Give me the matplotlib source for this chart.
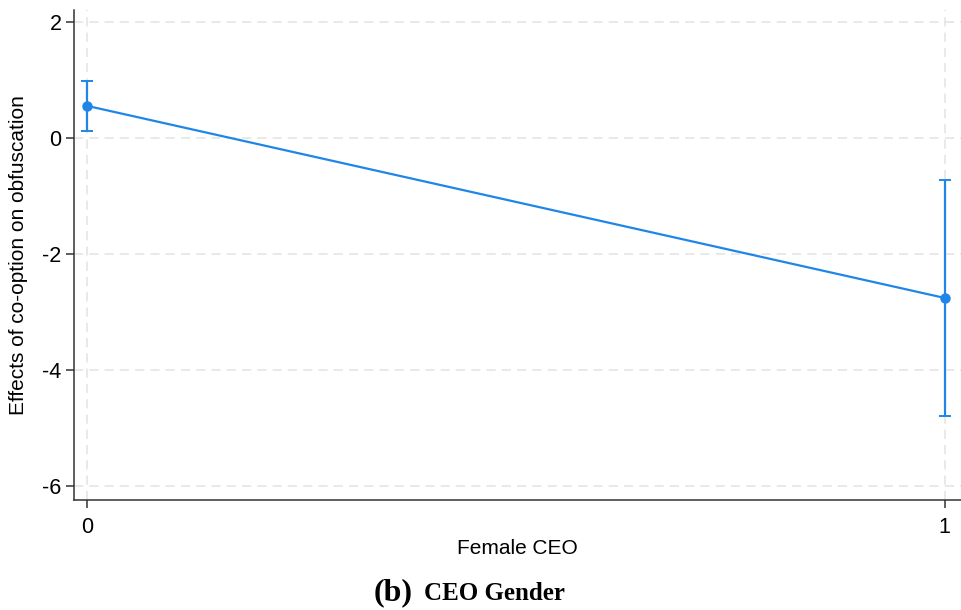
import numpy as np
import matplotlib
matplotlib.use("Agg")
import matplotlib.pyplot as plt

# Margins data
female_ceo = [0, 1]
effect = [0.55, -2.76]
ci_low = [0.12, -4.79]
ci_high = [0.98, -0.72]

yticks = [-6, -4, -2, 0, 2]
xticks = [0, 1]

blue = "#1f86e8"

plt.rcParams["font.family"] = ["Liberation Sans", "DejaVu Sans"]

fig = plt.figure(figsize=(9.62, 6.10), dpi=100)
ax = fig.add_axes([0.0769, 0.1803, 0.9221, 0.8033])

x = np.array(female_ceo)
y = np.array(effect)
yerr = np.vstack([y - np.array(ci_low), np.array(ci_high) - y])

ax.errorbar(x, y, yerr=yerr, color=blue, lw=1.6, marker="o", ms=6.5,
            capsize=4, capthick=1.4, elinewidth=1.6, zorder=3)

ax.set_xlim(-0.015, 1.019)
ax.set_ylim(-6.24, 2.2)
ax.set_xticks(xticks)
ax.set_yticks(yticks)
ax.set_xticklabels([str(t) for t in xticks])
ax.set_yticklabels([str(t) for t in yticks])

ax.grid(True, color="#e3e3e3", ls=(0, (6, 4)), lw=1.1, zorder=0)
for s in ["top", "right"]:
    ax.spines[s].set_visible(False)
for s in ["left", "bottom"]:
    ax.spines[s].set_color("#333333")
    ax.spines[s].set_linewidth(1.1)
ax.tick_params(axis="both", labelsize=15.5, color="#333333", length=6, width=1.1)
ax.tick_params(axis="y", pad=3)
ax.tick_params(axis="x", pad=6)

ax.set_ylabel("Effects of co-option on obfuscation", fontsize=15, labelpad=10)
ax.set_xlabel("Female CEO", fontsize=15, labelpad=1)

fig.text(0.409, 0.016, "(b)", fontsize=23, fontweight="bold",
         family="Liberation Serif", ha="center", va="baseline")
fig.text(0.441, 0.016, "CEO Gender", fontsize=18, fontweight="bold",
         family="Liberation Serif", ha="left", va="baseline")

fig.savefig("out.png", dpi=100)
